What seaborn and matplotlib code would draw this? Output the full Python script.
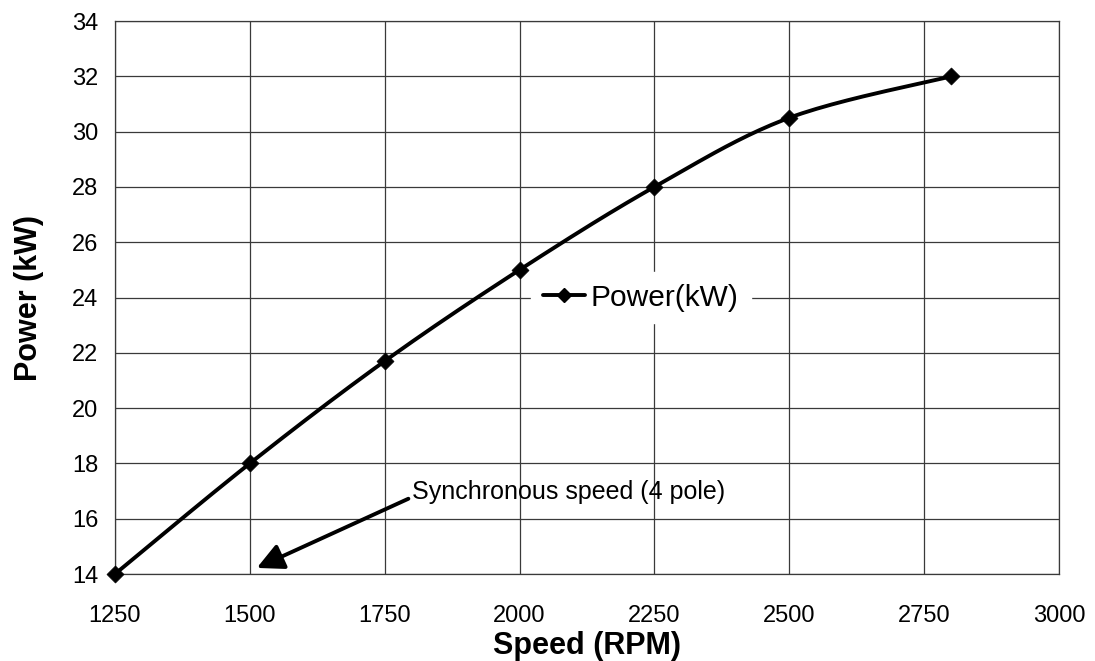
import numpy as np
import seaborn as sns
import matplotlib
matplotlib.use("Agg")
import matplotlib.pyplot as plt
from matplotlib.lines import Line2D

# data
speed_rpm = [1250, 1500, 1750, 2000, 2250, 2500, 2800]
power_kw = [14.0, 18.0, 21.7, 25.0, 28.0, 30.5, 32.0]
x_ticks = [1250, 1500, 1750, 2000, 2250, 2500, 2750, 3000]
y_ticks = [14, 16, 18, 20, 22, 24, 26, 28, 30, 32, 34]
series_name = "Power(kW)"
note_text = "Synchronous speed (4 pole)"
note_tip = (1513, 14.22)
note_pos = (1800, 16.95)


def smooth_line(xs, ys, sx=1.0, sy=1.0, n=25):
    # excel style smoothed line (bezier through the points)
    p = np.column_stack([np.asarray(xs, float) / sx, np.asarray(ys, float) / sy])
    out = []
    for i in range(len(p) - 1):
        p0 = p[i - 1] if i > 0 else p[i]
        p1 = p[i]
        p2 = p[i + 1]
        p3 = p[i + 2] if i + 2 < len(p) else p[i + 1]
        c1 = p1 + (p2 - p0) / 6
        c2 = p2 - (p3 - p1) / 6
        t = np.linspace(0, 1, n)[:, None]
        seg = (1 - t) ** 3 * p1 + 3 * (1 - t) ** 2 * t * c1 + 3 * (1 - t) * t ** 2 * c2 + t ** 3 * p2
        out.append(seg if i == 0 else seg[1:])
    out = np.vstack(out)
    return out[:, 0] * sx, out[:, 1] * sy


sns.set_style("white")
plt.rcParams["font.family"] = ["Liberation Sans", "DejaVu Sans"]
plt.rcParams["text.color"] = "black"
plt.rcParams["axes.labelcolor"] = "black"
plt.rcParams["xtick.color"] = "black"
plt.rcParams["ytick.color"] = "black"

fig = plt.figure(figsize=(10.95, 6.61), dpi=100)
ax = fig.add_axes([0.105, 0.1316, 0.8621, 0.8366])

# pixel per unit, so the smoothing follows the screen shape
sx = 1750 / 944
sy = 20 / 553
xs, ys = smooth_line(speed_rpm, power_kw, sx, sy)

sns.lineplot(x=xs, y=ys, ax=ax, color="black", linewidth=2.8, sort=False, estimator=None)
sns.scatterplot(x=speed_rpm, y=power_kw, ax=ax, marker="D", s=75, color="black",
                edgecolor="black", linewidth=0.5, zorder=5, clip_on=False)

ax.set_xlim(1250, 3000)
ax.set_ylim(14, 34)
ax.set_xticks(x_ticks)
ax.set_yticks(y_ticks)
ax.grid(True, color="#3a3a3a", linewidth=0.9)
ax.set_axisbelow(True)
for s in ax.spines.values():
    s.set_color("#3a3a3a")
    s.set_linewidth(0.9)

ax.tick_params(axis="both", direction="out", length=5, width=0.9, color="#3a3a3a",
               labelsize=17, labelcolor="black")
ax.tick_params(axis="y", pad=7)
ax.tick_params(axis="x", pad=17)

ax.set_xlabel("Speed (RPM)", fontsize=22, fontweight="bold", labelpad=3)
ax.set_ylabel("Power (kW)", fontsize=22, fontweight="bold", labelpad=20)

handle = Line2D([], [], color="black", linewidth=2.8, marker="D", markersize=7.5)
leg = ax.legend([handle], [series_name], loc="center", bbox_to_anchor=(0.557, 0.5),
                fontsize=21.5, frameon=True, fancybox=False, handlelength=1.4,
                handletextpad=0.2, borderpad=0.4)
leg.get_frame().set_facecolor("white")
leg.get_frame().set_edgecolor("white")
leg.get_frame().set_alpha(1)

ax.annotate(note_text, xy=note_tip, xytext=note_pos, textcoords="data",
            fontsize=18, ha="left", va="center",
            arrowprops=dict(arrowstyle="-|>,head_length=1.0,head_width=0.5",
                            color="black", lw=2.8, shrinkA=0, shrinkB=0,
                            relpos=(0, 0.3), mutation_scale=16))

fig.savefig("out.png", dpi=100)
